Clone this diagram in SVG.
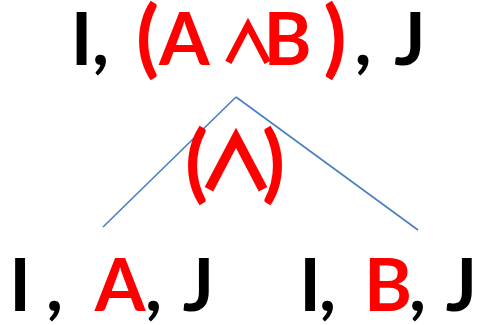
<svg xmlns="http://www.w3.org/2000/svg" width="477" height="325" viewBox="0 0 477 325">
<style>
text{font-family:Lato,"Open Sans","Liberation Sans",sans-serif;font-weight:700;font-size:73px;text-anchor:middle}
.r{fill:#FF0000}
.k{fill:#000}
.p{font-size:84px}
.op{font-family:"Noto Sans CJK JP","Noto Sans CJK SC",sans-serif;font-weight:900}
.conn{stroke:#4A7EC1;stroke-width:1.6;fill:none}
</style>
<rect width="477" height="325" fill="#fff"/>
<g id="connectors">
<line class="conn" x1="236" y1="97" x2="103" y2="227"/>
<line class="conn" x1="236" y1="97" x2="418" y2="230"/>
</g>
<g id="node-top">
<text y="65"><tspan class="k" x="81.5">I</tspan><tspan class="k" x="109.5">, </tspan><tspan class="r p" x="147.5" y="67">(</tspan><tspan class="r" x="192" y="65">A </tspan><tspan class="r op" x="248" y="63" font-size="58">∧</tspan><tspan class="r" x="287.5" y="65">B</tspan><tspan class="r p" x="335" y="67">)</tspan><tspan class="k" x="372" y="65">, </tspan><tspan class="k" x="410">J</tspan></text>
</g>
<g id="node-rule">
<text y="190" class="r"><tspan class="p" x="196.5" y="192">(</tspan><tspan class="op" x="236" y="190" font-size="80">∧</tspan><tspan class="p" x="273.5" y="192">)</tspan></text>
</g>
<g id="node-left">
<text y="311"><tspan class="k" x="29">I </tspan><tspan class="k" x="63.5">, </tspan><tspan class="r" x="120">A</tspan><tspan class="k" x="162.5">, </tspan><tspan class="k" x="198.5">J</tspan></text>
</g>
<g id="node-right">
<text y="311"><tspan class="k" x="310">I</tspan><tspan class="k" x="336.5">, </tspan><tspan class="r" x="388">B</tspan><tspan class="k" x="426.5">, </tspan><tspan class="k" x="461.5">J</tspan></text>
</g>
</svg>
